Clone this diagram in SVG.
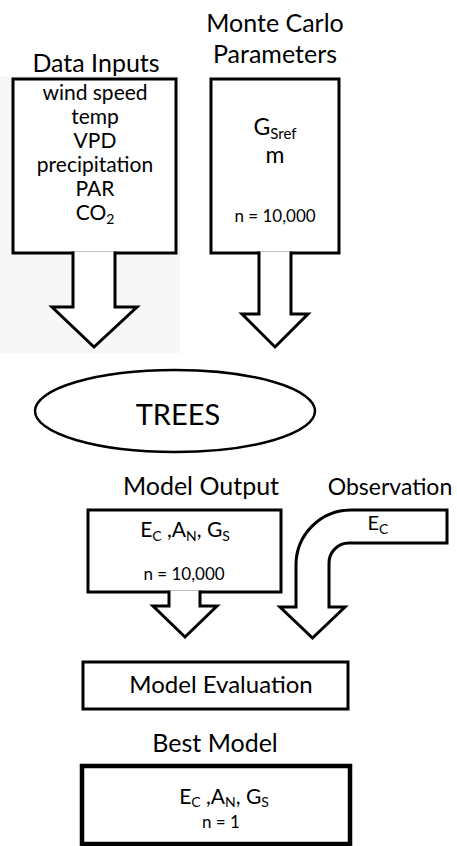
<svg xmlns="http://www.w3.org/2000/svg" width="457" height="846" viewBox="0 0 457 846">
<style>
text{font-family:Lato,"Open Sans","Liberation Sans",sans-serif;fill:#000;text-anchor:middle}
.t{font-size:25px}
.d{font-size:21px}
.n{font-size:17px}
.shape{fill:#fff;stroke:#000;stroke-width:3;stroke-linejoin:miter}
.arrow{fill:#fff;stroke:#000;stroke-width:3;stroke-linejoin:miter}
.sub{font-size:14px}
</style>
<rect x="0" y="0" width="457" height="846" fill="#fff"/>
<rect x="0" y="76" width="180" height="277" fill="#f7f7f7"/>
<g id="data-inputs">
<text class="t" x="96" y="72">Data Inputs</text>
<rect class="shape" x="13" y="79" width="163" height="174"/>
<text class="d" x="95" y="100">wind speed</text>
<text class="d" x="95" y="124">temp</text>
<text class="d" x="95" y="148">VPD</text>
<text class="d" x="95" y="172">precipitation</text>
<text class="d" x="95" y="196">PAR</text>
<text class="d" x="95" y="220">CO<tspan class="sub" dy="4">2</tspan></text>
</g>
<g id="monte-carlo">
<text class="t" x="275" y="32">Monte Carlo</text>
<text class="t" x="275" y="63">Parameters</text>
<rect class="shape" x="211" y="79" width="128" height="174"/>
<text style="font-size:23px" x="275" y="135">G<tspan class="sub" style="font-size:15px" dy="4">Sref</tspan></text>
<text style="font-size:23px" x="275" y="163">m</text>
<text class="n" x="275" y="222">n = 10,000</text>
</g>
<g id="trees">
<ellipse cx="175" cy="411" rx="140" ry="41" fill="#fff" stroke="#000" stroke-width="2.5"/>
<text style="font-size:29px" x="178" y="425">TREES</text>
</g>
<g id="model-output">
<text class="t" x="201" y="495">Model Output</text>
<rect class="shape" x="88" y="510" width="193" height="82"/>
<text style="font-size:21px" x="185" y="537">E<tspan class="sub" dy="4">C</tspan><tspan dy="-4"> ,A</tspan><tspan class="sub" dy="4">N</tspan><tspan dy="-4">, G</tspan><tspan class="sub" dy="4">S</tspan></text>
<text class="n" x="184" y="580">n = 10,000</text>
</g>
<g id="observation">
<text style="font-size:23px" x="390" y="495">Observation</text>
<path class="shape" d="M447,510 L351,510 A55,55 0 0 0 296,565 L296,607 L280,607 L312.5,638 L345,607 L329,607 L329,563 A20,20 0 0 1 349,543 L447,543 Z"/>
<text style="font-size:20px" x="378" y="530">E<tspan class="sub" dy="4">C</tspan></text>
</g>
<g id="model-evaluation">
<rect class="shape" x="83" y="662" width="265" height="47"/>
<text style="font-size:24px" x="221" y="693">Model Evaluation</text>
</g>
<g id="best-model">
<text class="t" x="215" y="752">Best Model</text>
<rect x="82" y="766" width="268" height="78" fill="#fff" stroke="#000" stroke-width="4.5"/>
<text style="font-size:21px" x="224" y="804">E<tspan class="sub" dy="3">C</tspan><tspan dy="-3"> ,A</tspan><tspan class="sub" dy="3">N</tspan><tspan dy="-3">, G</tspan><tspan class="sub" dy="3">S</tspan></text>
<text class="n" x="221" y="828">n = 1</text>
</g>
<g id="connectors">
<path class="arrow" d="M73,251.5 L73,307 L52,307 L94,347 L137,307 L115,307 L115,251.5"/>
<path class="arrow" d="M259,251.5 L259,314 L242,314 L275,347 L308,314 L291,314 L291,251.5"/>
<path class="arrow" d="M169,590.5 L169,606 L153,606 L185,637 L217,606 L200,606 L200,590.5"/>
</g>
</svg>
